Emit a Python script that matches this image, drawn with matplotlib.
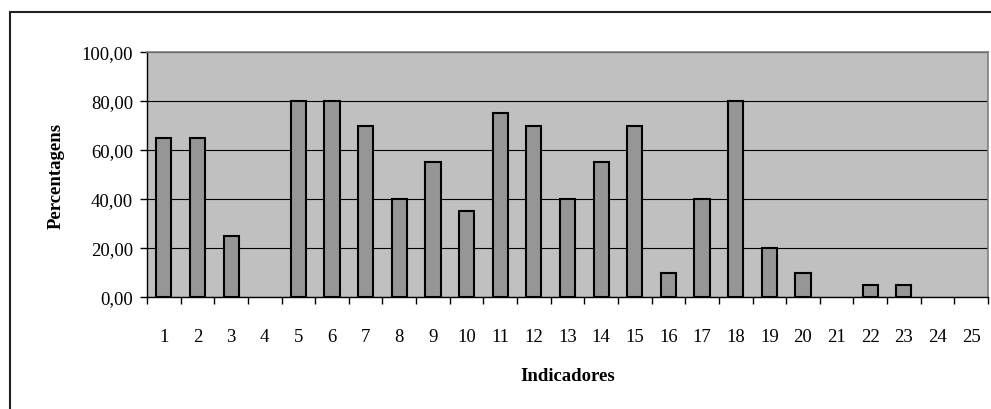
import matplotlib
matplotlib.use("Agg")
import matplotlib.pyplot as plt
from matplotlib.patches import Rectangle
from matplotlib.ticker import FuncFormatter, MultipleLocator, FixedLocator

categories = [str(i) for i in range(1, 26)]
values = [65, 65, 25, 0, 80, 80, 70, 40, 55, 35, 75, 70, 40, 55, 70, 10, 40, 80, 20, 10, 0, 5, 5, 0, 0]

plt.rcParams['font.family'] = ['Liberation Serif', 'DejaVu Serif']

fig = plt.figure(figsize=(9.91, 4.10), dpi=100)
ax = fig.add_axes([147/991, 1-298/410, (988-147)/991, (298-53)/410])
ax.set_facecolor('#c0c0c0')

x = list(range(len(categories)))
edges = ['black' if v > 0 else 'none' for v in values]
ax.bar(x, values, width=0.45, color='#969696', edgecolor=edges, linewidth=1.5, zorder=3)

ax.set_xlim(-0.5, len(categories) - 0.5)
ax.set_ylim(0, 100)
ax.yaxis.set_major_locator(MultipleLocator(20))
ax.yaxis.set_major_formatter(FuncFormatter(lambda v, p: f"{v:.2f}".replace('.', ',')))
ax.grid(axis='y', color='black', linewidth=0.8, zorder=1)
ax.set_axisbelow(True)

ax.set_xticks(x)
ax.set_xticklabels(categories)
ax.xaxis.set_minor_locator(FixedLocator([i - 0.5 for i in range(len(categories) + 1)]))
ax.tick_params(axis='x', which='major', length=0, pad=22, labelsize=13.5)
ax.tick_params(axis='x', which='minor', length=5, width=1, color='black', direction='out')
ax.tick_params(axis='y', length=5, width=1, color='black', direction='out', pad=5, labelsize=13.5)

for s in ['top', 'right']:
    ax.spines[s].set_color('#808080')
    ax.spines[s].set_linewidth(1.2)
ax.spines['left'].set_color('black')
ax.spines['bottom'].set_color('black')
ax.spines['left'].set_linewidth(1)
ax.spines['bottom'].set_linewidth(1)

ax.set_ylabel('Percentagens', fontsize=13.5, fontweight='bold', labelpad=12)
ax.set_xlabel('Indicadores', fontsize=13.5, fontweight='bold', labelpad=16)

fig.patches.append(Rectangle((10/991, -0.1), 1.2, 1 - 13/410 + 0.1, transform=fig.transFigure,
                             fill=False, edgecolor='#222222', linewidth=1.5, clip_on=False))

fig.savefig('out.png', dpi=100)
